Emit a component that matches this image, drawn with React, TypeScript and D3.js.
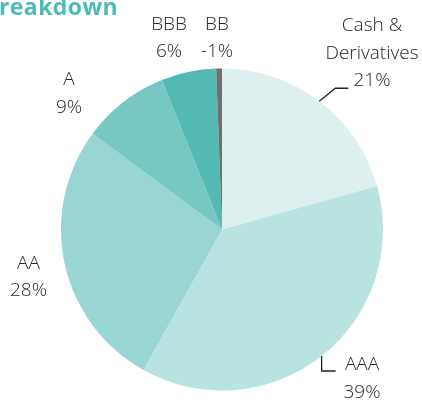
import React from "react";
import * as d3 from "d3";

// ---- data ----
const categories = ["Cash & Derivatives", "AAA", "AA", "A", "BBB", "BB"];
const values = [21.4, 38.8, 28.0, 9.1, 5.7, -0.6];
const colors = ["#ddf0ef", "#b9e3e1", "#99d5d3", "#77c7c3", "#54b8b3", "#6f6f6f"];
const titleText = "Breakdown";

// ---- layout ----
const W = 422, H = 403;
const cx = 222, cy = 229.5, R = 161;
const FONT = "'Open Sans', 'Noto Sans', sans-serif";
const LINE_H = 27.5;

const labelLayout: Record<string, { x: number; y: number; lines?: string[]; leader?: string }> = {
  "Cash & Derivatives": { x: 372, y: 31, lines: ["Cash &", "Derivatives"], leader: "cash" },
  AAA: { x: 362, y: 370, leader: "aaa" },
  AA: { x: 28.5, y: 268.5 },
  A: { x: 69, y: 85 },
  BBB: { x: 169, y: 29.5 },
  BB: { x: 217, y: 29.5 },
};

export default function App() {
  const pie = d3
    .pie<number>()
    .sort(null)
    .value((d) => Math.abs(d))
    .startAngle(0)
    .endAngle(2 * Math.PI);
  const arcs = pie(values);
  const arc = d3.arc<d3.PieArcDatum<number>>().innerRadius(0).outerRadius(R);
  const edge = d3.arc<d3.PieArcDatum<number>>().innerRadius(R).outerRadius(R);

  const fmt = (v: number) => `${Math.round(v)}%`;

  const leaders: any[] = [];
  arcs.forEach((a, i) => {
    const lay = labelLayout[categories[i]];
    if (!lay.leader) return;
    const [sx, sy] = edge.centroid(a);
    const x0 = cx + sx, y0 = cy + sy;
    let pts: [number, number][] = [];
    if (lay.leader === "cash") {
      const ey = y0 - 13;
      pts = [[x0, y0], [x0 + 16, ey], [x0 + 29, ey]];
    } else if (lay.leader === "a") {
      const ey = y0 + 10;
      pts = [[x0, y0], [x0 - 23, ey], [x0 - 36, ey]];
    } else if (lay.leader === "aaa") {
      const ey = y0 + 15;
      pts = [[x0, y0], [x0, ey], [x0 + 14, ey]];
    }
    leaders.push(
      <polyline
        key={"l" + i}
        points={pts.map((p) => p.join(",")).join(" ")}
        fill="none"
        stroke="#222"
        strokeWidth={1.3}
      />
    );
  });

  return (
    <div style={{ position: "fixed", left: 0, top: 0, width: W, height: H }}>
      <svg width={W} height={H} style={{ display: "block", overflow: "hidden" }}>
        <text
          x={118}
          y={15}
          textAnchor="end"
          fontFamily={FONT}
          fontWeight={700}
          fontSize={23}
          letterSpacing={0.4}
          fill="#4fb9b3"
        >
          {titleText}
        </text>
        <g transform={`translate(${cx},${cy})`}>
          {arcs.map((a, i) => (
            <path key={i} d={arc(a) || ""} fill={colors[i]} />
          ))}
        </g>
        {leaders}
        {arcs.map((a, i) => {
          const cat = categories[i];
          const lay = labelLayout[cat];
          const lines = [...(lay.lines ?? [cat]), fmt(values[i])];
          return (
            <text
              key={"t" + i}
              textAnchor="middle"
              fontFamily={FONT}
              fontWeight={300}
              fontSize={19}
              fill="#262626"
            >
              {lines.map((ln, j) => (
                <tspan key={j} x={lay.x} y={lay.y + j * LINE_H}>
                  {ln}
                </tspan>
              ))}
            </text>
          );
        })}
      </svg>
    </div>
  );
}
